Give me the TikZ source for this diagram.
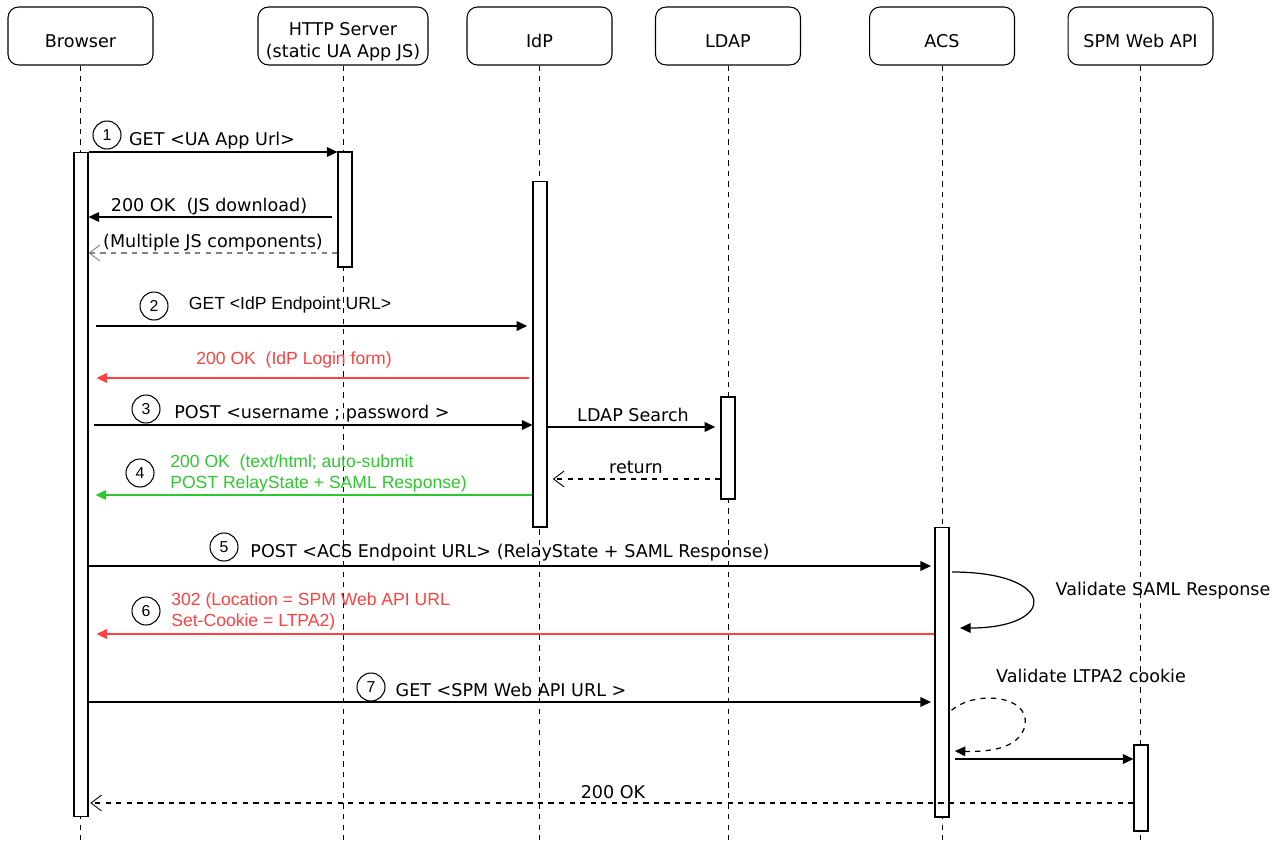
\documentclass[tikz,border=0pt]{standalone}
\usepackage{fontspec}
\setmainfont{DejaVu Sans}
\newfontfamily\helv{Liberation Sans}
\usetikzlibrary{arrows.meta}
\definecolor{msgred}{RGB}{255,64,64}
\definecolor{msggreen}{RGB}{45,200,45}
\tikzset{
  actor/.style={draw, rounded corners=6pt, line width=0.6pt, align=center,
    minimum width=2.9cm, minimum height=1.16cm, inner sep=1pt,
    execute at begin node={\rule{0pt}{13pt}}},
  lifeline/.style={dashed, line width=0.5pt},
  bar/.style={draw, fill=white, line width=0.6pt, minimum width=0.28cm, inner sep=0pt},
  msg/.style={line width=0.7pt, -{Triangle[length=6pt,width=5.5pt]}},
  reply/.style={line width=0.6pt, dashed, -{Straight Barb[length=6pt,width=9pt,line width=0.5pt]}},
  num/.style={circle, draw, line width=0.6pt, inner sep=0pt, minimum size=0.56cm, font=\helv\small},
  lbl/.style={inner sep=0pt},
  hlbl/.style={inner sep=0pt, font=\helv}
}
\begin{document}
\begin{tikzpicture}[x=0.02cm, y=-0.02cm]
  \useasboundingbox (0,0) rectangle (1284,842);
  \coordinate (bottom) at (0,842);
  % participants
  \draw
    (80.5,36) node[actor] (browser){Browser}
    (343,36) node[actor, minimum width=3.4cm, text height=26pt] (http){HTTP Server\\(static UA App JS)}
    (539.5,36) node[actor] (idp){IdP}
    (728,36) node[actor] (ldap){LDAP}
    (942,36) node[actor] (acs){ACS}
    (1140.5,36) node[actor] (spm){SPM Web API};
  \foreach \p in {browser,http,idp,ldap,acs,spm}
    \draw[lifeline] (\p.south) -- (\p.south |- bottom);
  % activation bars
  \draw
    (81,484.5) node[bar, minimum height=13.3cm] (actB){}
    (345,209.5) node[bar, minimum height=2.3cm] (actH){}
    (540,354) node[bar, minimum height=6.92cm] (actI){}
    (728,448) node[bar, minimum height=2.04cm] (actL){}
    (942,672) node[bar, minimum height=5.8cm] (actA){}
    (1141,788) node[bar, minimum height=1.72cm] (actS){};
  % step numbers
  \draw
    (107,135) node[num] (n1){1}
    (154,306) node[num] (n2){2}
    (146,409) node[num] (n3){3}
    (140,473) node[num] (n4){4}
    (224,547) node[num] (n5){5}
    (146,611) node[num] (n6){6}
    (371,687) node[num] (n7){7};
  % labels
  \draw
    (212,141) node[lbl] (l1){GET <UA App Url>}
    (209,207) node[lbl] (l2){200 OK~~(JS download)}
    (213,243) node[lbl] (l3){(Multiple JS components)}
    (290,305) node[hlbl] (l4){GET <IdP Endpoint URL>}
    (294,360) node[hlbl, text=msgred] (l5){200 OK~~(IdP Login form)}
    (312,414) node[lbl] (l6){POST <username ; password >}
    (633,415) node[lbl] (l7){LDAP Search}
    (636,467) node[lbl] (l8){return}
    (170,473) node[hlbl, anchor=west, align=left, text=msggreen] (l9){200 OK~~(text/html; auto-submit\\POST RelayState + SAML Response)}
    (510,553) node[lbl] (l10){POST <ACS Endpoint URL> (RelayState + SAML Response)}
    (1163,591) node[lbl] (l11){Validate SAML Response}
    (171,611) node[hlbl, anchor=west, align=left, text=msgred] (l12){302 (Location = SPM Web API URL\\Set-Cookie = LTPA2)}
    (511,690) node[lbl] (l13){GET <SPM Web API URL >}
    (1091,676) node[lbl] (l14){Validate LTPA2 cookie}
    (613,792) node[lbl] (l15){200 OK};
  % messages
  \begin{scope}[msg]
    \draw (actB.east |- 0,152) to (actH.west |- 0,152);
    \draw[shorten <=3pt] (actH.west |- 0,217) to (actB.east |- 0,217);
    \draw[reply, gray] (actH.west |- 0,253) to (actB.east |- 0,253);
    \draw[shorten <=4pt, shorten >=3pt] (actB.east |- 0,326) to (actI.west |- 0,326);
    \draw[msgred, shorten <=2pt, shorten >=4.5pt] (actI.west |- 0,378) to (actB.east |- 0,378);
    \draw[shorten <=3pt] (actB.east |- 0,425) to (actI.west |- 0,425);
    \draw[shorten >=3pt] (actI.east |- 0,427) to (actL.west |- 0,427);
    \draw[reply, shorten >=3pt] (actL.west |- 0,479) to (actI.east |- 0,479);
    \draw[msggreen, shorten >=4pt] (actI.west |- 0,495) to (actB.east |- 0,495);
    \draw[shorten >=2pt] (actB.east |- 0,566) to (actA.west |- 0,566);
    \draw[shorten <=1.5pt] (actA.east |- 0,572) .. controls (1058,572) and (1058,628) .. ([xshift=6pt]actA.east |- 0,628);
    \draw[msgred, shorten >=4.5pt] (actA.west |- 0,634) to (actB.east |- 0,634);
    \draw[shorten >=2pt] (actB.east |- 0,702) to (actA.west |- 0,702);
    \draw[dashed, shorten <=1.5pt] (actA.east |- 0,712) .. controls (975,690) and (1030,695) .. (1025,725)
      .. controls (1020,750) and (985,752) .. ([xshift=3pt]actA.east |- 0,751);
    \draw[shorten <=3pt] (actA.east |- 0,759) to (actS.west |- 0,759);
    \draw[reply] (actS.west |- 0,803) to ([xshift=1pt]actB.east |- 0,803);
  \end{scope}
\end{tikzpicture}
\end{document}
